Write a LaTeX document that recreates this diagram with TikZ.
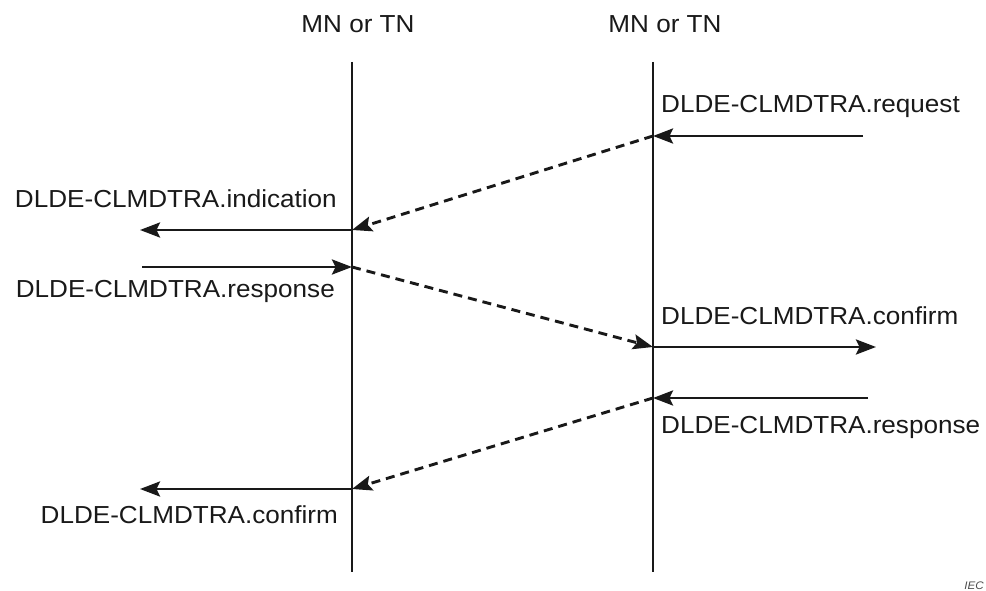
\documentclass[tikz,border=0pt]{standalone}
\usepackage{fontspec}
\setmainfont{Liberation Sans}[FakeStretch=1.06]
\usetikzlibrary{arrows.meta}
\begin{document}
\begin{tikzpicture}[x=1bp,y=-1bp,
  life/.style={line width=2.9bp,draw=black!90},
  msg/.style={line width=2.9bp,draw=black!90,-{Stealth[length=20bp,width=15bp,inset=3.5bp]}},
  async/.style={msg,dash pattern=on 9bp off 6bp},
  lbl/.style={inner sep=0pt,font=\fontsize{24.7}{28}\selectfont,text=black!90},
  iec/.style={inner sep=0pt,font=\itshape\fontsize{11}{13}\selectfont,text=black!70}]
\useasboundingbox (0,0) rectangle (986,591);
% lifelines
\coordinate (Lt) at (352,62); \coordinate (Lb) at (352,572);
\coordinate (Rt) at (653,62); \coordinate (Rb) at (653,572);
\draw[life] (Lt) -- (Lb);
\draw[life] (Rt) -- (Rb);
\node[lbl,anchor=base] (hL) at (358,33) {MN or TN};
\node[lbl,anchor=base] (hR) at (665,33) {MN or TN};
% message points
\coordinate (reqS) at (863,136); \coordinate (reqE) at (653,136);
\coordinate (indS) at (352,230); \coordinate (indE) at (140,230);
\coordinate (rspS) at (142,267); \coordinate (rspE) at (352,267);
\coordinate (cnfS) at (653,347); \coordinate (cnfE) at (876,347);
\coordinate (rs2S) at (868,398); \coordinate (rs2E) at (653,398);
\coordinate (cf2S) at (352,489); \coordinate (cf2E) at (140,489);
% arrows
\draw[msg] (reqS) -- (reqE);
\draw[async] (reqE) -- (indS);
\draw[msg] (indS) -- (indE);
\draw[msg] (rspS) -- (rspE);
\draw[async] (rspE) -- (cnfS);
\draw[msg] (cnfS) -- (cnfE);
\draw[msg] (rs2S) -- (rs2E);
\draw[async] (rs2E) -- (cf2S);
\draw[msg] (cf2S) -- (cf2E);
% labels
\node[lbl,anchor=base west] (t1) at (661,113) {DLDE-CLMDTRA.request};
\node[lbl,anchor=base east] (t2) at (337,208) {DLDE-CLMDTRA.indication};
\node[lbl,anchor=base east] (t3) at (335,297) {DLDE-CLMDTRA.response};
\node[lbl,anchor=base west] (t4) at (661,324) {DLDE-CLMDTRA.confirm};
\node[lbl,anchor=base west] (t5) at (661,433) {DLDE-CLMDTRA.response};
\node[lbl,anchor=base east] (t6) at (338,523) {DLDE-CLMDTRA.confirm};
\node[iec,anchor=base east] (iec) at (984,589) {IEC};
\end{tikzpicture}
\end{document}
